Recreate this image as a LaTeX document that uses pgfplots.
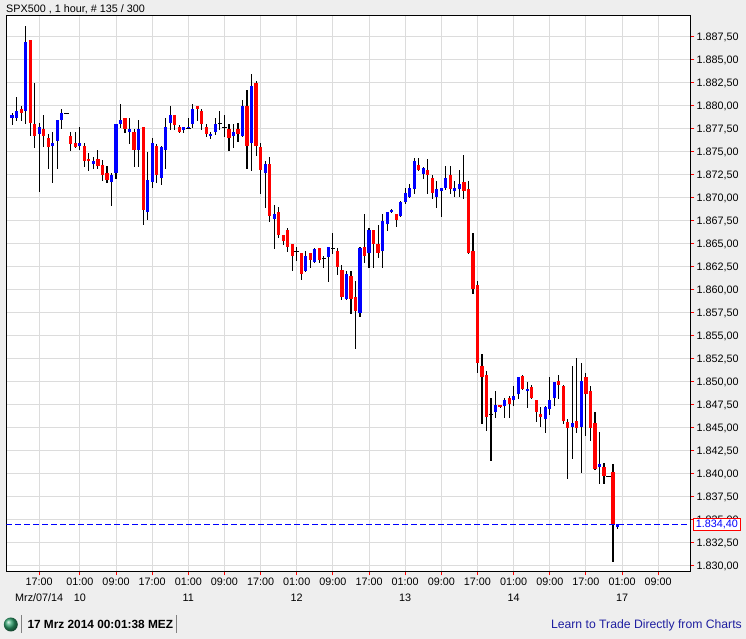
\documentclass[border=0pt]{standalone}
\usepackage{fontspec}
\setmainfont{Liberation Sans}
\usepackage{pgfplots}
\usepackage{pgfplotstable}
\pgfplotsset{compat=1.18}

\definecolor{panel}{HTML}{EEEEEE}
\definecolor{gridc}{HTML}{DCDCDC}
\definecolor{linkc}{HTML}{1F1FA0}
\definecolor{led}{HTML}{2E9E6B}
\definecolor{lastp}{HTML}{0000FF}
\newcommand{\lab}{\fontsize{10.8}{16}\selectfont}

% SPX500 hourly candles, bar number, open, high, low, close
\pgfplotstableread{
i o h l c
0 1878.66 1879.24 1877.90 1878.99
1 1878.66 1880.94 1878.33 1879.42
2 1879.64 1879.96 1878.33 1879.20
3 1879.42 1888.66 1878.01 1886.92
4 1887.14 1887.14 1876.70 1878.12
5 1878.01 1882.46 1875.40 1876.70
6 1876.92 1878.12 1870.62 1877.68
7 1877.46 1878.99 1875.51 1876.70
8 1876.49 1876.92 1873.12 1875.51
9 1875.62 1877.14 1871.59 1875.94
10 1876.16 1878.44 1873.12 1878.44
11 1878.44 1879.64 1877.46 1879.20
12 1879.17 1879.17 1879.17 1879.17
13 1876.70 1877.14 1875.07 1875.83
14 1875.94 1877.14 1875.40 1875.51
15 1875.62 1877.68 1875.18 1875.94
16 1875.62 1875.94 1873.33 1873.99
17 1874.20 1874.86 1872.90 1873.99
18 1873.66 1874.42 1873.12 1873.99
19 1874.20 1875.18 1873.12 1873.44
20 1873.55 1874.09 1871.81 1872.46
21 1872.68 1873.44 1871.59 1871.92
22 1871.70 1872.68 1869.09 1872.46
23 1872.68 1878.01 1872.03 1878.01
24 1878.01 1880.18 1877.57 1878.44
25 1878.66 1878.66 1877.03 1877.46
26 1877.14 1878.66 1875.83 1877.46
27 1877.14 1877.46 1873.33 1875.18
28 1875.18 1878.44 1873.33 1877.46
29 1877.68 1877.68 1867.03 1868.66
30 1868.44 1874.96 1867.57 1871.92
31 1871.70 1876.49 1871.05 1875.94
32 1875.62 1875.83 1871.59 1872.46
33 1872.14 1875.62 1871.38 1875.51
34 1875.18 1878.66 1873.12 1877.68
35 1878.12 1879.96 1877.36 1878.99
36 1878.99 1878.99 1877.36 1877.90
37 1877.68 1877.90 1877.03 1877.14
38 1877.36 1877.68 1877.03 1877.68
39 1877.57 1878.66 1877.46 1877.68
40 1878.01 1880.18 1877.57 1879.64
41 1879.96 1879.96 1878.33 1879.64
42 1879.42 1879.64 1877.36 1878.01
43 1877.68 1878.01 1876.59 1876.92
44 1876.70 1877.14 1876.38 1876.92
45 1877.14 1878.66 1876.81 1878.01
46 1878.12 1879.42 1877.36 1878.01
47 1877.64 1878.99 1876.59 1877.64
48 1877.46 1878.01 1875.07 1876.49
49 1876.70 1878.01 1875.40 1877.14
50 1877.46 1878.12 1876.05 1876.92
51 1876.70 1880.62 1876.59 1879.96
52 1879.96 1881.70 1873.12 1875.62
53 1875.94 1883.44 1872.90 1882.14
54 1882.46 1882.68 1874.53 1875.62
55 1875.51 1875.94 1870.40 1873.01
56 1872.68 1873.99 1868.88 1873.66
57 1873.66 1874.42 1867.36 1868.01
58 1867.68 1869.20 1864.42 1868.22
59 1868.44 1868.99 1865.62 1865.94
60 1865.94 1865.94 1864.86 1865.29
61 1866.49 1866.70 1864.09 1864.64
62 1864.96 1864.96 1862.03 1863.66
63 1864.17 1864.64 1863.12 1864.17
64 1863.99 1863.99 1861.05 1861.70
65 1862.03 1864.20 1861.92 1863.66
66 1863.99 1863.99 1862.36 1863.22
67 1863.01 1864.53 1862.90 1864.42
68 1864.53 1864.53 1862.90 1863.22
69 1863.41 1863.66 1862.36 1863.41
70 1863.55 1864.64 1860.83 1864.64
71 1864.49 1866.16 1863.88 1864.49
72 1864.20 1864.53 1861.59 1862.46
73 1862.14 1862.68 1858.88 1859.20
74 1858.99 1862.03 1858.88 1861.70
75 1861.49 1862.03 1857.36 1858.99
76 1859.20 1860.94 1853.55 1857.68
77 1857.46 1864.64 1857.03 1864.53
78 1864.64 1868.22 1862.90 1863.66
79 1863.95 1866.67 1862.32 1866.45
80 1866.45 1866.45 1862.32 1864.93
81 1864.93 1866.99 1863.51 1863.95
82 1864.17 1868.19 1862.32 1867.43
83 1867.10 1868.51 1866.34 1868.41
84 1868.41 1868.73 1868.30 1868.62
85 1868.19 1868.19 1866.88 1867.64
86 1867.97 1869.60 1867.86 1869.49
87 1869.49 1871.12 1869.38 1870.47
88 1870.14 1871.45 1870.04 1871.12
89 1871.01 1874.38 1870.36 1873.95
90 1873.62 1874.38 1872.86 1872.97
91 1872.64 1873.30 1871.99 1873.19
92 1872.97 1874.17 1870.36 1872.43
93 1872.10 1872.43 1869.82 1870.47
94 1870.14 1871.88 1868.84 1870.91
95 1870.69 1871.12 1867.86 1871.12
96 1871.12 1873.41 1870.80 1872.10
97 1872.43 1873.41 1870.36 1870.91
98 1870.69 1871.88 1870.04 1871.12
99 1870.91 1872.97 1870.04 1871.45
100 1871.67 1874.60 1869.82 1870.69
101 1870.91 1871.88 1863.84 1863.95
102 1864.17 1866.12 1859.49 1860.14
103 1860.47 1860.91 1851.01 1851.99
104 1851.67 1852.97 1845.36 1850.47
105 1850.69 1851.12 1844.60 1846.12
106 1846.41 1848.19 1841.34 1846.41
107 1846.67 1848.95 1846.01 1847.43
108 1847.43 1847.43 1847.10 1847.21
109 1847.32 1848.19 1846.01 1847.97
110 1848.19 1848.41 1846.01 1847.64
111 1847.97 1849.49 1847.32 1848.41
112 1848.62 1850.47 1848.08 1850.47
113 1850.58 1850.69 1849.06 1849.17
114 1848.95 1849.93 1847.10 1849.17
115 1849.38 1849.60 1848.08 1848.19
116 1847.97 1847.97 1845.58 1846.67
117 1846.45 1847.21 1845.04 1846.12
118 1845.91 1847.32 1844.38 1847.21
119 1846.99 1850.47 1846.34 1847.97
120 1848.19 1849.93 1847.32 1849.93
121 1850.14 1850.69 1848.08 1849.60
122 1849.49 1849.60 1845.36 1845.69
123 1845.58 1845.91 1839.38 1844.93
124 1845.14 1851.67 1841.56 1845.47
125 1845.69 1852.64 1844.38 1844.93
126 1845.14 1851.99 1840.04 1850.14
127 1850.47 1850.91 1844.06 1848.62
128 1848.95 1849.49 1843.51 1844.93
129 1845.47 1846.67 1840.36 1840.47
130 1840.69 1844.49 1838.84 1841.01
131 1840.69 1841.12 1838.84 1839.71
132 1839.67 1839.67 1839.67 1839.67
133 1840.14 1841.01 1830.36 1834.46
134 1834.17 1834.49 1833.95 1834.49
}\candles

\begin{document}
\begin{tikzpicture}[x=1pt,y=1pt]
\fill[panel] (0,0) rectangle (746,639);
\node[anchor=base west,inner sep=0pt,font=\lab] at (6,626.5) {SPX500 , 1 hour, \# 135 / 300};

\begin{axis}[
  at={(6.3pt,67.7pt)},anchor=south west,
  width=684pt,height=556pt,scale only axis,
  axis background/.style={fill=white},
  xmin=-1.28,xmax=150.1,ymin=1829.4,ymax=1889.84,
  axis line style={black,line width=1pt},
  grid=major,grid style={gridc,line width=1pt},
  tick align=outside,major tick length=4pt,
  tick style={red,line width=1pt},
  xtick pos=bottom,ytick pos=right,yticklabel pos=right,
  xtick={6,15,23,31,39,47,55,63,71,79,87,95,103,111,119,127,135,143},
  xticklabels={17:00\\Mrz/07/14,01:00\\10,09:00,17:00,01:00\\11,09:00,17:00,01:00\\12,09:00,17:00,01:00\\13,09:00,17:00,01:00\\14,09:00,17:00,01:00\\17,09:00},
  x tick label style={font=\lab,align=center,anchor=north,yshift=-1pt,inner sep=1pt},
  ytick={1830,1832.5,...,1887.5},
  y tick label style={font=\lab,anchor=west,inner sep=1pt,yshift=-0.8pt,xshift=1pt,
    /pgf/number format/.cd,fixed,fixed zerofill,precision=2,1000 sep={.},dec sep={,},assume math mode=true},
]
% wicks
\addplot[draw=none,no markers,forget plot,
  error bars/.cd,y dir=both,y explicit,error mark=none,error bar style={draw=black,line width=1.1pt}]
  table[x=i,y=o,y error plus expr=\thisrow{h}-\thisrow{o},y error minus expr=\thisrow{o}-\thisrow{l}] {\candles};
% up bodies
\addplot[draw=none,no markers,forget plot,
  error bars/.cd,y dir=plus,y explicit,error mark=none,error bar style={draw=blue,line width=3.2pt}]
  table[x=i,y=o,y error plus expr={max(\thisrow{c}-\thisrow{o},0)}] {\candles};
% down bodies
\addplot[draw=none,no markers,forget plot,
  error bars/.cd,y dir=minus,y explicit,error mark=none,error bar style={draw=red,line width=3.2pt}]
  table[x=i,y=o,y error minus expr={max(\thisrow{o}-\thisrow{c},0)}] {\candles};
% open = close, a small black dash
\addplot[draw=none,no markers,forget plot,
  error bars/.cd,x dir=both,x explicit,error mark=none,error bar style={draw=black,line width=1.1pt}]
  table[x=i,y=o,x error expr={ifthenelse(\thisrow{o}==\thisrow{c},0.5,0)}] {\candles};
% last price
\addplot[color=lastp,no markers,line width=1.2pt,dash pattern=on 6pt off 3pt] coordinates {(-1.28,1834.45) (150.1,1834.45)};
\end{axis}

\node[draw=red,fill=white,line width=1pt,text=blue,font=\lab,inner sep=0pt,minimum width=47pt,minimum height=12pt] at (716.8,114.3) {1.834,40};

\node[anchor=base west,inner sep=0pt,font=\fontsize{11.85}{14}\selectfont\bfseries] at (27.3,10.5) {17 Mrz 2014 00:01:38 MEZ};
\node[anchor=base east,inner sep=0pt,font=\fontsize{12.2}{14}\selectfont,text=linkc] at (742,10.5) {Learn to Trade Directly from Charts};
\shade[ball color=led] (10.8,14.5) circle (7);
\draw[gray,line width=1pt] (21.5,6) -- (21.5,24);
\draw[gray,line width=1pt] (176.3,6) -- (176.3,24);
\end{tikzpicture}
\end{document}
